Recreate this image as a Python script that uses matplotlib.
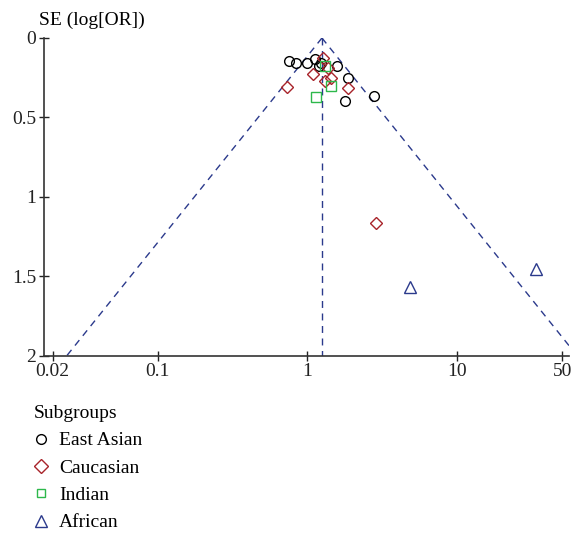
import numpy as np
import matplotlib.pyplot as plt
from matplotlib.lines import Line2D

plt.rcParams['font.family'] = ['Liberation Serif', 'DejaVu Serif']

# odds ratio, standard error
ea_or = [0.75, 0.84, 1.00, 1.13, 1.20, 1.24, 1.58, 1.87, 1.78, 2.77]
ea_se = [0.145, 0.16, 0.16, 0.132, 0.175, 0.16, 0.175, 0.252, 0.397, 0.366]
ca_or = [1.28, 1.09, 0.73, 1.32, 1.43, 1.87, 1.37, 2.88]
ca_se = [0.124, 0.227, 0.307, 0.271, 0.254, 0.317, 0.191, 1.165]
in_or = [1.31, 1.44, 1.14]
in_se = [0.177, 0.305, 0.374]
af_or = [4.82, 33.6]
af_se = [1.57, 1.455]
pooled = 1.25

xticks = [0.02, 0.1, 1, 10, 50]
xticklabels = ['0.02', '0.1', '1', '10', '50']
yticks = [0, 0.5, 1, 1.5, 2]
yticklabels = ['0', '0.5', '1', '1.5', '2']

navy = '#2B3A8C'
red = '#A8232A'
green = '#2DB84B'

fig = plt.figure(figsize=(5.72, 5.35), dpi=100)
ax = fig.add_axes([0.077, 0.335, 0.918, 0.594])

# funnel
se = np.linspace(0, 2, 100)
ax.plot(pooled * np.exp(-1.96 * se), se, '--', color=navy, lw=1, dashes=(5, 4))
ax.plot(pooled * np.exp(1.96 * se), se, '--', color=navy, lw=1, dashes=(5, 4))
ax.plot([pooled, pooled], [0, 2], '--', color=navy, lw=1, dashes=(5, 4))

ms = 7
ax.plot(ea_or, ea_se, 'o', mfc='none', mec='black', ms=ms, mew=1)
ax.plot(ca_or, ca_se, 'D', mfc='none', mec=red, ms=ms - 0.5, mew=1)
ax.plot(in_or, in_se, 's', mfc='none', mec=green, ms=ms - 0.5, mew=1)
ax.plot(af_or, af_se, '^', mfc='none', mec=navy, ms=ms + 1, mew=1)

ax.set_xscale('log')
ax.set_xlim(0.0175, 55.7)
ax.set_ylim(2, 0)
ax.set_xticks(xticks)
ax.set_xticklabels(xticklabels)
ax.xaxis.set_minor_locator(plt.NullLocator())
ax.set_yticks(yticks)
ax.set_yticklabels(yticklabels)
ax.tick_params(direction='inout', length=7, width=1, labelsize=14, colors='#222222')
ax.tick_params(axis='x', pad=2)
ax.tick_params(axis='y', pad=2)
for s in ['top', 'right']:
    ax.spines[s].set_visible(False)
for s in ['left', 'bottom']:
    ax.spines[s].set_color('#333333')
    ax.spines[s].set_linewidth(1.2)
ax.patch.set_alpha(0)

fig.text(0.068, 0.946, 'SE (log[OR])', fontsize=14, ha='left', va='bottom')

handles = [
    Line2D([], [], marker='o', ls='', mfc='none', mec='black', ms=7),
    Line2D([], [], marker='D', ls='', mfc='none', mec=red, ms=7),
    Line2D([], [], marker='s', ls='', mfc='none', mec=green, ms=6),
    Line2D([], [], marker='^', ls='', mfc='none', mec=navy, ms=8),
]
leg = fig.legend(handles, ['East Asian', 'Caucasian', 'Indian', 'African'],
                 loc='upper left', bbox_to_anchor=(0.045, 0.2575), frameon=False,
                 title='Subgroups', alignment='left', fontsize=14, title_fontsize=14,
                 handlelength=0.8, handletextpad=0.5, labelspacing=0.5, borderaxespad=0)

fig.savefig('out.png', dpi=100)
